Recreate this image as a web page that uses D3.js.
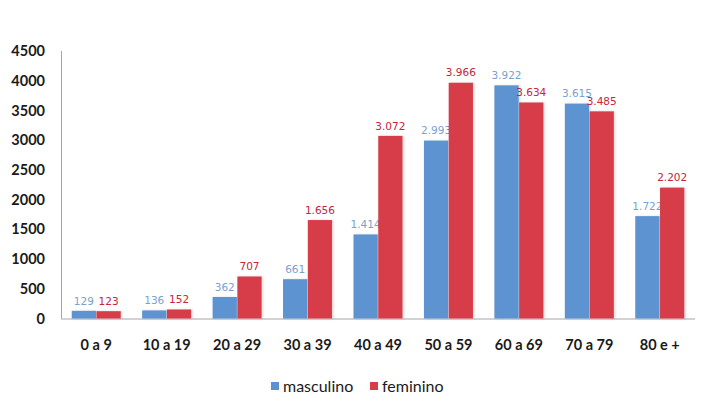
<!DOCTYPE html>
<html><head><meta charset="utf-8">
<script src="https://cdn.jsdelivr.net/npm/d3@7"></script>
<style>body{margin:0;background:#fff}svg{display:block}</style>
</head><body>
<svg id="c" width="707" height="407"></svg>
<script>
const categories = ["0 a 9","10 a 19","20 a 29","30 a 39","40 a 49","50 a 59","60 a 69","70 a 79","80 e +"];
const masculino = [129,136,362,661,1414,2993,3922,3615,1722];
const feminino = [123,152,707,1656,3072,3966,3634,3485,2202];
const yTicks = [0,500,1000,1500,2000,2500,3000,3500,4000,4500];
const seriesNames = ["masculino","feminino"];
const colors = ["#5b93d0","#d63c4a"];
const labelColors = ["#7aa1d2","#c8243a"];

(function(){
const svg = d3.select("#c");
const mLeft = 61, mRight = 695, mTop = 51, mBottom = 318.5;
const x = d3.scaleBand().domain(categories).range([mLeft,mRight]).paddingInner(0.29).paddingOuter(0.145);
const x1 = d3.scaleBand().domain(seriesNames).range([0,x.bandwidth()]).padding(0.02);
const y = d3.scaleLinear().domain([0,4500]).range([mBottom,mTop]);
const fmt = v => d3.format(",")(v).replace(/,/g,".");

svg.append("line").attr("x1",mLeft+0.5).attr("x2",mLeft+0.5).attr("y1",mTop).attr("y2",mBottom).attr("stroke","#a6a6a6");
svg.append("line").attr("x1",mLeft).attr("x2",mRight).attr("y1",mBottom+0.5).attr("y2",mBottom+0.5).attr("stroke","#a6a6a6");

svg.append("g").selectAll("text").data(yTicks).join("text")
  .attr("x",45).attr("y",d=>y(d)).attr("dy","0.35em").attr("text-anchor","end")
  .attr("font-family","Lato, 'Open Sans', sans-serif").attr("font-size",14.5).attr("font-weight","bold").attr("fill","#1a1a1a")
  .text(d=>d);

svg.append("g").selectAll("text").data(categories).join("text")
  .attr("x",d=>x(d)+x.bandwidth()/2).attr("y",345).attr("dy","0.35em").attr("text-anchor","middle")
  .attr("font-family","Lato, 'Open Sans', sans-serif").attr("font-size",14.5).attr("font-weight","bold").attr("fill","#1a1a1a")
  .text(d=>d);

const data = [masculino, feminino];
const defs = svg.append("defs");
defs.append("filter").attr("id","sh").attr("x","-20%").attr("y","-20%").attr("width","150%").attr("height","150%")
  .append("feDropShadow").attr("dx",1.5).attr("dy",0).attr("stdDeviation",1).attr("flood-color","#000").attr("flood-opacity",0.15);

seriesNames.forEach((s,si)=>{
  const g = svg.append("g");
  g.selectAll("rect").data(categories).join("rect")
    .attr("x",(c)=>x(c)+x1(s)).attr("width",x1.bandwidth())
    .attr("y",(c,i)=>y(data[si][i])).attr("height",(c,i)=>mBottom-y(data[si][i]))
    .attr("fill",colors[si]).attr("filter","url(#sh)");
  g.selectAll("text").data(categories).join("text")
    .attr("x",c=>x(c)+x1(s)+x1.bandwidth()/2).attr("y",(c,i)=>y(data[si][i])-10).attr("dy","0.35em")
    .attr("text-anchor","middle").attr("font-family","'DejaVu Sans', Verdana, sans-serif").attr("font-size",10.5)
    .attr("fill",labelColors[si]).text((c,i)=>fmt(data[si][i]));
});

const leg = svg.append("g");
const legItems = [{n:"masculino",x:271},{n:"feminino",x:370}];
legItems.forEach((d,i)=>{
  leg.append("rect").attr("x",d.x).attr("y",382).attr("width",8).attr("height",8).attr("fill",colors[i]);
  leg.append("text").attr("x",d.x+12).attr("y",386).attr("dy","0.35em")
    .attr("font-family","Lato, 'Open Sans', sans-serif").attr("font-size",16).attr("fill","#1a1a1a").text(d.n);
});
})();
</script>
</body></html>
